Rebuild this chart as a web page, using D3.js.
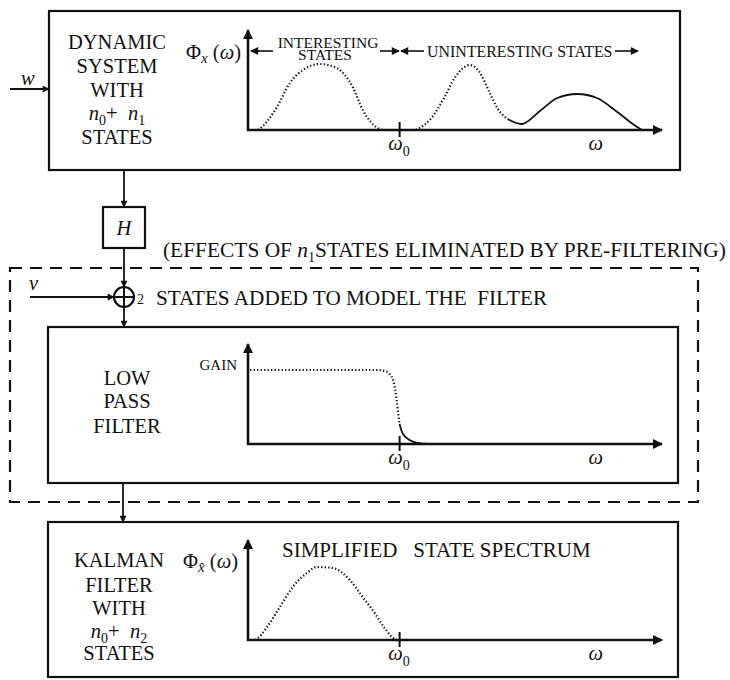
<!DOCTYPE html>
<html><head><meta charset="utf-8">
<script src="https://cdn.jsdelivr.net/npm/d3@7/dist/d3.min.js"></script>
<style>
body{margin:0;background:#fff}
svg{display:block}
</style>
</head><body>
<svg id="c" width="730" height="680"></svg>
<script>
// ---------- data (ω on a 0..100 frequency scale, spectrum height 0..100) ----------
const omega0 = 36.5;          // cut-off frequency tick
const omegaLabel = 84;        // position of the generic ω label

// Dynamic system spectrum Φx(ω): dotted (interesting + first uninteresting peak)
const sysDotW   = [2.4, 3.6, 7.0, 10.1, 13.3, 17.3, 21.4, 25.3, 27.7, 29.9, 31.3, 33.0, 36.6, 40.2, 41.4, 44.3, 47.5, 49.9, 52.3, 53.5, 55.9, 58.3, 60.2, 62.7];
const sysDotPhi = [0,   4,   23,  47,   60,   66,   62,   43,   20,   7,    2,    0,    0,    0,    2,    12,   33,   52,   63,   65,   58,   38,   22,   11];
// solid remainder of the system spectrum
const sysSolW   = [62.7, 66.0, 70.8, 74.7, 79.5, 84.3, 89.2, 94.0, 95.2];
const sysSolPhi = [11,   6,    20,   32,   36,   32,   18,   3,    0];

// Low pass filter gain
const gainDotW   = [0.5, 31.3, 33.0, 34.2, 35.2, 35.9, 36.3, 36.6];
const gainDotVal = [74,  74,   73,   70,   62,   44,   30,   20];
const gainSolW   = [36.6, 37.3, 39.0, 41.0, 43.4, 100];
const gainSolVal = [20,   11,   4,    1,    0,    0];

// Simplified state spectrum Φx̂(ω)
const kalW   = [1.7, 2.4, 4.6, 7.7, 10.8, 14.2, 16.6, 20.5, 24.6, 27.7, 30.6, 33.0, 35.4, 36.1];
const kalPhi = [0,   2,   13,  33,  53,   67,   73,   72,   60,   43,   27,   12,   1,    0];

const systemLines = ["DYNAMIC", "SYSTEM", "WITH", "n0+n1", "STATES"];
const filterLines = ["LOW", "PASS", "FILTER"];
const kalmanLines = ["KALMAN", "FILTER", "WITH", "n0+n2", "STATES"];

// ---------- drawing ----------
const FONT = "'Liberation Serif', 'Times New Roman', serif";
const svg = d3.select("#c").style("font-family", FONT);
const defs = svg.append("defs");
function marker(id, w, h) {
  defs.append("marker").attr("id", id)
    .attr("viewBox", "0 0 10 10").attr("refX", 9).attr("refY", 5)
    .attr("markerUnits", "userSpaceOnUse")
    .attr("markerWidth", w).attr("markerHeight", h)
    .attr("orient", "auto-start-reverse")
    .append("path").attr("d", "M0,0L10,5L0,10z").attr("fill", "#111");
}
marker("ah", 9, 7);
marker("axh", 14, 10);
marker("hh", 11, 8);

const BIG = 20.5, SUB = 14;

function box(x, y, w, h, dash) {
  svg.append("rect").attr("x", x).attr("y", y).attr("width", w).attr("height", h)
    .attr("fill", "none").attr("stroke", "#111").attr("stroke-width", 2.2)
    .attr("stroke-dasharray", dash || null);
}
function arrow(x1, y1, x2, y2, m, sw) {
  svg.append("line").attr("x1", x1).attr("y1", y1).attr("x2", x2).attr("y2", y2)
    .attr("stroke", "#111").attr("stroke-width", sw || 1.8)
    .attr("marker-end", m ? `url(#${m})` : null);
}
function txt(x, y, anchor, size) {
  return svg.append("text").attr("x", x).attr("y", y)
    .attr("text-anchor", anchor || "start").attr("font-size", size || BIG)
    .style("font-family", FONT).style("white-space", "pre").attr("fill", "#111");
}
// rich text: parts = [text, {t, it, sub, size, dx}]
function rich(x, y, parts, anchor, size) {
  const t = txt(x, y, anchor, size);
  let shifted = 0;
  parts.forEach(p => {
    if (typeof p === "string") p = {t: p};
    const s = t.append("tspan").text(p.t);
    const want = p.sub ? (p.sub === true ? 5 : p.sub) : 0;
    const dy = want - shifted;
    if (dy) s.attr("dy", dy);
    shifted = want;
    if (p.it) s.attr("font-style", "italic");
    if (p.sub || p.size) s.attr("font-size", p.size || SUB);
    if (p.dx) s.attr("dx", p.dx);
  });
  return t;
}
function nLine(x, y, a, b) {
  return rich(x, y, [{t: "n", it: true}, {t: a, sub: true}, {t: "+\u00A0\u00A0"}, {t: "n", it: true}, {t: b, sub: true}], "middle");
}
function stack(cx, ys, lines, nParts) {
  lines.forEach((l, i) => {
    if (l.startsWith("n0+")) nLine(cx, ys[i], nParts[0], nParts[1]);
    else txt(cx, ys[i], "middle").text(l);
  });
}

// boxes
box(49, 11, 631, 159);
box(103, 207, 42, 41);
box(10, 268, 688, 234, "12,8");
box(48, 327, 630, 156);
box(48, 522, 630, 155);

// block labels
stack(117, [49, 73, 97, 120, 144], systemLines, ["0", "1"]);
stack(127, [385, 408, 433], filterLines);
stack(119, [567, 592, 615, 638, 660], kalmanLines, ["0", "2"]);
rich(124, 235, [{t: "H", it: true}], "middle");

// signal flow
arrow(10, 89, 49, 89, "ah");
rich(21, 85, [{t: "w", it: true}]);
arrow(124, 170, 124, 207, "ah");
arrow(124, 248, 124, 287, "ah");
arrow(30, 297, 114, 297, "ah");
rich(29, 290, [{t: "v", it: true}]);
svg.append("circle").attr("cx", 124).attr("cy", 297).attr("r", 10)
  .attr("fill", "none").attr("stroke", "#111").attr("stroke-width", 2.2);
svg.append("line").attr("x1", 114).attr("x2", 134).attr("y1", 297).attr("y2", 297).attr("stroke", "#111").attr("stroke-width", 2);
svg.append("line").attr("x1", 124).attr("x2", 124).attr("y1", 287).attr("y2", 307).attr("stroke", "#111").attr("stroke-width", 2);
arrow(124, 307, 124, 327, "ah");
arrow(123, 483, 123, 522, "ah");
rich(137, 304, [{t: "2"}], "start", SUB);
rich(156, 305, ["STATES ADDED TO MODEL THE  FILTER"], "start", 21.2);
rich(163, 257, ["(EFFECTS OF ", {t: "n", it: true}, {t: "1", sub: true}, {t: "STATES ELIMINATED BY PRE-FILTERING)", sub: 0}], "start", 21.4);

// ---------- spectrum panels ----------
const x = d3.scaleLinear().domain([0, 100]).range([248, 662]);
function panel(axisY) {
  const y = d3.scaleLinear().domain([0, 100]).range([axisY, axisY - 100]);
  svg.append("line").attr("x1", x(0)).attr("x2", x(0)).attr("y1", y(0) + 1).attr("y2", y(100))
    .attr("stroke", "#111").attr("stroke-width", 2.6).attr("marker-end", "url(#axh)");
  svg.append("line").attr("x1", x(0) - 1).attr("x2", x(100)).attr("y1", y(0)).attr("y2", y(0))
    .attr("stroke", "#111").attr("stroke-width", 2.6).attr("marker-end", "url(#axh)");
  const ax = svg.append("g").attr("transform", `translate(0,${axisY})`)
    .call(d3.axisBottom(x).tickValues([omega0]).tickSize(6).tickFormat(""));
  ax.select(".domain").remove();
  ax.selectAll(".tick line").attr("y1", -8).attr("y2", 7).attr("stroke", "#111").attr("stroke-width", 2);
  rich(x(omega0), axisY + 20, [{t: "ω", it: true}, {t: "0", sub: 6}], "middle");
  rich(x(omegaLabel), axisY + 20, [{t: "ω", it: true}], "middle");
  return y;
}
function curve(y, ws, vs, dotted) {
  const pts = ws.map((w, i) => [w, vs[i]]);
  const line = d3.line().x(d => x(d[0])).y(d => y(d[1])).curve(d3.curveMonotoneX);
  svg.append("path").attr("d", line(pts)).attr("fill", "none").attr("stroke", "#111")
    .attr("stroke-width", dotted ? 2.2 : 1.8)
    .attr("stroke-dasharray", dotted ? "1.3,2.2" : null);
}

// panel 1: dynamic system spectrum
const y1 = panel(130);
curve(y1, sysDotW, sysDotPhi, true);
curve(y1, sysSolW, sysSolPhi, false);
rich(241, 59, ["Φ", {t: "x", it: true, sub: 4, size: 15}, {t: " (", sub: 0}, {t: "ω", it: true}, ")"], "end");
// band annotations
arrow(273, 51, 251, 51, "hh", 1.6);
rich(328, 48, ["INTERESTING"], "middle", 15.5);
rich(325, 60, ["STATES"], "middle", 15.5);
arrow(380, 51, 399, 51, "hh", 1.6);
arrow(424, 51, 401, 51, "hh", 1.6);
rich(427, 57, ["UNINTERESTING STATES"], "start", 15.9);
arrow(615, 51, 638, 51, "hh", 1.6);

// panel 2: low pass filter gain
const y2 = panel(444);
curve(y2, gainDotW, gainDotVal, true);
curve(y2, gainSolW, gainSolVal, false);
rich(237, 370, ["GAIN"], "end", 15);

// panel 3: simplified state spectrum
const y3 = panel(640);
curve(y3, kalW, kalPhi, true);
rich(238, 568, ["Φ", {t: "x\u0302", it: true, sub: 4, size: 15}, {t: " (", sub: 0}, {t: "ω", it: true}, ")"], "end");
rich(282, 557, ["SIMPLIFIED   STATE SPECTRUM"], "start", 21);
</script>
</body></html>
